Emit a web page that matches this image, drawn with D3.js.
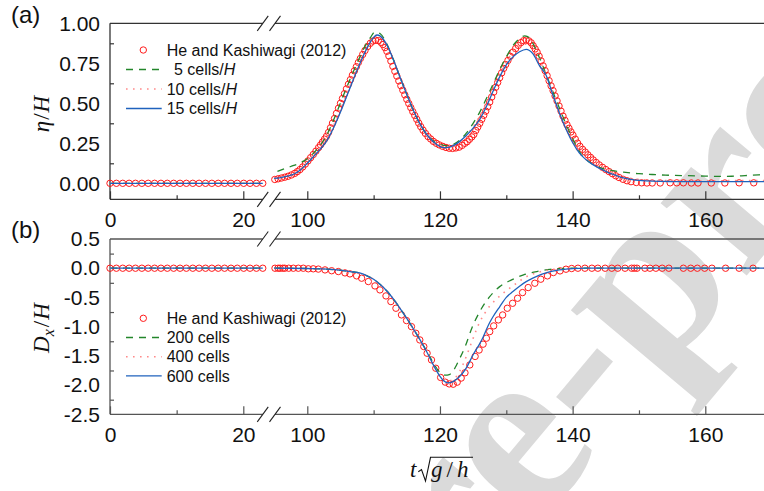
<!DOCTYPE html>
<html>
<head>
<meta charset="utf-8">
<script src="https://cdn.jsdelivr.net/npm/d3@7"></script>
<style>
  html, body { margin: 0; padding: 0; background: #fff; }
  svg { display: block; }
  text { font-family: "Liberation Sans", Arial, sans-serif; fill: #111; }
  .math { font-family: "Liberation Serif", "Times New Roman", serif; font-style: italic; }
</style>
</head>
<body>
<svg id="chart" width="764" height="491"></svg>
<script>
// ---------------- data ----------------
// Experimental record (He & Kashiwagi 2012), early flat part (both panels)
const refTimeLeft = [0, 0.96, 1.91, 2.87, 3.82, 4.78, 5.73, 6.69, 7.64, 8.6, 9.55, 10.51,
  11.46, 12.42, 13.37, 14.33, 15.28, 16.24, 17.19, 18.15, 19.1, 20.06, 21.01, 21.97, 22.92];

// Panel (a): free-surface elevation eta/H, experiment
const heEta = [
  [95.1,.024],[95.6,.028],[96.1,.033],[96.6,.038],[97.1,.044],[97.6,.052],[98.1,.062],[98.5,.073],
  [98.9,.086],[99.3,.102],[99.7,.120],[100.1,.140],[100.5,.160],[100.9,.180],[101.3,.201],[101.7,.223],
  [102.0,.240],[102.3,.258],[102.6,.276],[102.9,.294],[103.2,.318],[103.5,.347],[103.8,.376],[104.1,.405],
  [104.4,.437],[104.7,.469],[105.0,.500],[105.3,.530],[105.6,.560],[105.9,.590],[106.2,.619],[106.5,.648],
  [106.8,.676],[107.1,.703],[107.4,.729],[107.7,.755],[108.0,.780],[108.35,.805],[108.7,.830],[109.1,.855],
  [109.5,.875],[109.9,.889],[110.3,.894],[110.7,.892],[111.1,.881],[111.4,.867],[111.7,.848],[112.0,.825],
  [112.3,.796],[112.6,.764],[112.9,.731],[113.2,.700],[113.5,.670],[113.8,.640],[114.1,.610],[114.4,.582],
  [114.7,.553],[115.0,.525],[115.3,.499],[115.6,.473],[115.9,.448],[116.2,.424],[116.5,.400],[116.8,.376],
  [117.1,.354],[117.45,.332],[117.8,.312],[118.2,.292],[118.6,.277],[119.0,.262],[119.45,.250],[119.9,.240],
  [120.4,.231],[120.9,.224],[121.4,.219],[121.9,.218],[122.4,.221],[122.9,.226],[123.35,.237],[123.75,.250],
  [124.1,.260],[124.45,.275],[124.8,.290],[125.1,.305],[125.4,.330],[125.7,.352],[126.0,.375],[126.3,.400],
  [126.6,.425],[126.9,.451],[127.2,.479],[127.5,.508],[127.8,.539],[128.1,.570],[128.4,.600],[128.7,.630],
  [129.0,.660],[129.3,.690],[129.6,.718],[129.9,.742],[130.25,.768],[130.6,.794],[131.0,.820],[131.4,.842],
  [131.8,.862],[132.2,.879],[132.6,.891],[133.0,.895],[133.4,.890],[133.75,.878],[134.05,.860],[134.35,.840],
  [134.65,.819],[134.95,.794],[135.25,.765],[135.55,.734],[135.85,.704],[136.15,.673],[136.45,.641],[136.75,.609],
  [137.05,.579],[137.35,.546],[137.65,.515],[137.95,.483],[138.25,.451],[138.55,.420],[138.85,.393],[139.15,.366],
  [139.45,.344],[139.75,.321],[140.05,.301],[140.4,.276],[140.75,.251],[141.1,.231],[141.5,.212],[141.9,.195],
  [142.3,.178],[142.7,.162],[143.1,.146],[143.55,.130],[144.0,.115],[144.5,.100],[145.0,.086],[145.5,.073],
  [146.0,.060],[146.5,.047],[147.0,.036],[147.6,.025],[148.2,.016],[148.8,.010],[149.6,.005],[150.4,.003],
  [151.2,.002],[152.0,.002],[153.2,.002],[154.7,.003],[155.7,.003],[156.7,.003],[157.9,.002],[158.9,.002],
  [160.9,.002],[162.95,.002],[165.1,.003],[167.3,.003]
];

// Panel (a): simulations, 5 / 10 / 15 cells per H
const eta5 = [
  [95.5,.075],[96.5,.09],[97.5,.105],[98.5,.12],[99.5,.14],[100.5,.17],[101.5,.215],[102.5,.27],
  [103.5,.35],[104.5,.45],[105.5,.555],[106.5,.655],[107.5,.75],[108.5,.84],[109.5,.91],[110.2,.945],
  [111,.935],[112,.87],[113,.77],[114,.66],[115,.555],[116,.455],[117,.37],[118,.305],[119,.265],
  [120,.243],[121,.236],[122,.243],[123,.27],[124,.315],[125,.375],[126,.445],[127,.53],[128,.62],
  [129,.71],[130,.79],[131,.86],[132,.905],[132.8,.922],[133.5,.91],[134,.875],[135,.785],[136,.68],
  [137,.575],[138,.47],[139,.37],[140,.28],[141,.2],[142,.15],[143,.12],[144,.1],[145,.088],[146,.079],
  [147,.073],[148,.068],[149,.063],[150,.06],[152,.055],[154,.051],[157,.048],[160,.045],[162,.043],
  [164,.044],[166,.048],[168,.053],[170,.057]
];
const eta10 = [
  [95,.035],[96,.04],[97,.05],[98,.065],[99,.09],[100,.13],[101,.175],[102,.225],[103,.285],[104,.365],
  [105,.46],[106,.565],[107,.665],[108,.765],[109,.85],[110,.91],[110.5,.925],[111,.918],[112,.865],
  [113,.77],[114,.66],[115,.555],[116,.455],[117,.37],[118,.305],[119,.262],[120,.235],[121,.226],
  [122,.233],[123,.258],[124,.3],[125,.355],[126,.42],[127,.5],[128,.59],[129,.68],[130,.76],[131,.82],
  [132,.858],[133,.87],[134,.845],[135,.77],[136,.68],[137,.565],[138,.455],[139,.35],[140,.26],[141,.19],
  [142,.15],[143,.12],[144,.097],[145,.077],[146,.06],[147,.046],[148,.036],[149,.029],[150,.024],
  [152,.02],[155,.017],[160,.016],[165,.017],[170,.018]
];
const eta15 = [
  [95,.031],[96,.036],[97,.045],[98,.058],[99,.085],[100,.125],[101,.17],[102,.215],[103,.27],[104,.35],
  [105,.445],[106,.55],[107,.655],[108,.755],[109,.845],[110,.912],[110.5,.927],[111,.92],[112,.865],
  [113,.77],[114,.66],[115,.555],[116,.455],[117,.37],[118,.305],[119,.26],[120,.23],[120.5,.223],
  [121,.223],[122,.235],[123,.262],[124,.3],[125,.345],[126,.4],[127,.48],[128,.575],[129,.665],[130,.74],
  [131,.79],[132,.822],[133,.8375],[134,.81],[135,.735],[136,.675],[137,.555],[138,.44],[139,.34],
  [140,.255],[141,.19],[142,.148],[143,.118],[144,.095],[145,.075],[146,.057],[147,.042],[148,.031],
  [149,.023],[150,.018],[152,.013],[155,.011],[160,.01],[165,.01],[170,.01]
];

// Panel (b): horizontal drift Dx/H, experiment
const heDx = [
  [95.13,0],[95.6,0],[95.9,0],[96.3,0],[96.6,0],[97.2,0],[97.9,0],[98.65,0],[99.4,0],[100.15,-.01],
  [100.9,-.01],[101.66,-.015],[102.67,-.029],[103.67,-.043],[104.68,-.057],[105.68,-.08],[106.43,-.097],
  [107.44,-.131],[108.19,-.171],[109.2,-.228],[110.2,-.303],[110.95,-.371],[111.86,-.474],[112.6,-.571],
  [113.36,-.685],[114.2,-.799],[114.96,-.896],[115.7,-.999],[116.36,-1.113],[116.96,-1.227],[117.56,-1.341],
  [118.06,-1.455],[118.72,-1.569],[119.37,-1.712],[120.1,-1.87],[120.8,-1.95],[121.4,-1.98],[122.0,-1.985],
  [122.6,-1.95],[123.2,-1.88],[123.77,-1.79],[124.5,-1.655],[125.3,-1.51],[125.9,-1.40],[126.5,-1.30],
  [127.0,-1.198],[127.5,-1.085],[128.1,-.987],[128.8,-.885],[129.45,-.8],[130.15,-.685],[130.95,-.6],
  [131.7,-.514],[132.45,-.417],[133.3,-.331],[134.3,-.257],[135.2,-.188],[136.2,-.131],[137.1,-.074],
  [138.1,-.046],[139.0,-.017],[139.85,-.005],[140.8,0],[141.85,0],[142.9,0],[143.8,0],[144.9,0],[145.9,0],
  [146.8,0],[147.9,0],[148.9,0],[149.3,0],[149.7,0],[150.9,0],[151.65,0],[152.55,0],[153.5,0],[154.5,0],
  [156.7,0],[157.8,0],[158.8,0],[159.9,0],[161.0,0],[163.06,0],[165.1,0],[167.2,0]
];

// Panel (b): simulations, 200 / 400 / 600 cells
const dx200 = [
  [95,0],[100,-.005],[102,-.01],[104,-.025],[106,-.05],[107,-.065],[108,-.086],[109,-.13],[110,-.19],
  [111,-.28],[112,-.39],[113,-.53],[114,-.69],[115,-.86],[116,-1.04],[117,-1.227],[118,-1.42],[119,-1.62],
  [119.6,-1.73],[120.2,-1.8],[120.8,-1.83],[121.4,-1.82],[122,-1.76],[122.5,-1.655],[123,-1.54],
  [123.8,-1.34],[124.8,-1.027],[126,-.742],[127.5,-.486],[129,-.315],[130.8,-.2],[132.6,-.114],
  [134.6,-.057],[136.6,-.02],[138,-.008],[140,0],[150,0],[170,0]
];
const dx400 = [
  [95,0],[100,-.005],[102,-.01],[104,-.025],[106,-.05],[107,-.065],[108,-.086],[109,-.13],[110,-.19],
  [111,-.28],[112,-.39],[113,-.53],[114,-.69],[115,-.86],[116,-1.04],[117,-1.227],[118,-1.43],[119,-1.65],
  [120,-1.84],[120.6,-1.91],[121.2,-1.93],[122,-1.9],[122.5,-1.85],[123,-1.76],[123.5,-1.64],[124,-1.5],
  [124.5,-1.35],[125,-1.2],[125.5,-1.05],[126,-.92],[126.7,-.78],[127.5,-.65],[128.5,-.53],[129.5,-.43],
  [130.3,-.36],[131.5,-.26],[132.5,-.18],[133.5,-.12],[134.5,-.08],[136,-.04],[138,-.01],[140,0],[150,0],[170,0]
];
const dx600 = [
  [95,0],[100,-.005],[102,-.01],[104,-.025],[106,-.05],[107,-.065],[108,-.086],[109,-.13],[110,-.19],
  [111,-.28],[112,-.39],[113,-.53],[114,-.69],[115,-.86],[116,-1.04],[117,-1.227],[118,-1.43],[119,-1.655],
  [120,-1.85],[120.6,-1.93],[121.2,-1.963],[121.8,-1.95],[122.5,-1.9],[123,-1.85],[124,-1.7],[125,-1.48],
  [126,-1.29],[126.5,-1.18],[127,-1.05],[127.5,-.93],[128,-.83],[129,-.66],[130,-.5],[131,-.4],[132,-.31],
  [133,-.23],[134,-.17],[135,-.12],[136,-.08],[137,-.05],[138,-.03],[139,-.015],[140,-.006],[141,-.002],
  [142,0],[150,0],[170,0]
];

// Axis ticks
const xMajorLeft = [0, 20];
const xMinorLeft = [10];
const xMajorRight = [100, 120, 140, 160];
const xMinorRight = [110, 130, 150, 170];
const yMajorA = [0, 0.25, 0.5, 0.75, 1.0];
const yMinorA = [0.125, 0.375, 0.625, 0.875];
const yMajorB = [-2.5, -2.0, -1.5, -1.0, -0.5, 0.0, 0.5];
const yMinorB = [-2.25, -1.75, -1.25, -0.75, -0.25, 0.25];

// Legends
const legendA = ["He and Kashiwagi (2012)", "5 cells/H", "10 cells/H", "15 cells/H"];
const legendB = ["He and Kashiwagi (2012)", "200 cells", "400 cells", "600 cells"];

// ---------------- layout ----------------
const W = 764, H = 491;
const breakL = 22.92, breakR = 95.13;   // ends of the two axis segments
const svg = d3.select("#chart");
svg.append("rect").attr("width", W).attr("height", H).attr("fill", "#fff");

// watermark
svg.append("text")
  .attr("transform", "translate(-195,1398) rotate(-50)")
  .style("font-family", '"Liberation Serif", "Times New Roman", serif')
  .style("font-weight", "bold")
  .style("font-size", "245px")
  .style("fill", "#dadada")
  .text("Journal Pre-proof");

const xL = d3.scaleLinear().domain([0, 20]).range([110, 243.3]);
const xR = d3.scaleLinear().domain([100, 160]).range([307.3, 705.3]);
const xOf = t => (t <= breakL + 0.5 ? xL(t) : xR(t));

const styles = {
  ref:  { color: "#ff1a1a" },
  s1:   { color: "#23862b", dash: "7,6", width: 1.3 },
  s2:   { color: "#ff8a8a", dash: "1.6,5.4", width: 1.6 },
  s3:   { color: "#1f62bd", dash: null, width: 1.3 }
};

function panel(cfg) {
  const g = svg.append("g");
  const y = cfg.y;
  const [yBot, yTop] = y.range();
  const axisColor = cfg.axisColor;

  // frame lines with the break gap
  [yTop, yBot].forEach(yy => {
    g.append("line").attr("x1", xL(0)).attr("x2", xL(breakL)).attr("y1", yy).attr("y2", yy)
      .attr("stroke", axisColor).attr("stroke-width", 1.3);
    g.append("line").attr("x1", xR(breakR)).attr("x2", W + 5).attr("y1", yy).attr("y2", yy)
      .attr("stroke", axisColor).attr("stroke-width", 1.3);
    [xL(breakL), xR(breakR)].forEach(bx => {
      g.append("line").attr("x1", bx - 5.5).attr("y1", yy + 7.5).attr("x2", bx + 5.5).attr("y2", yy - 7.5)
        .attr("stroke", "#222").attr("stroke-width", 1.1);
    });
  });
  g.append("line").attr("x1", xL(0)).attr("x2", xL(0)).attr("y1", yTop).attr("y2", yBot)
    .attr("stroke", axisColor).attr("stroke-width", 1.3);

  // x ticks (inward)
  const addX = (scale, vals, size, labels) => {
    const ax = d3.axisBottom(scale).tickValues(vals).tickSize(-size).tickPadding(12.7);
    if (!labels) ax.tickFormat("");
    const a = g.append("g").attr("transform", `translate(0,${yBot})`).call(ax);
    a.select(".domain").remove();
    a.selectAll("line").attr("stroke", axisColor).attr("stroke-width", 1.2);
    a.selectAll("text").style("font-size", "21px").style("font-family", '"Liberation Sans", Arial, sans-serif').attr("fill", "#111");
  };
  addX(xL, xMajorLeft, 8, true);
  addX(xL, xMinorLeft, 4, false);
  addX(xR, xMajorRight, 8, true);
  addX(xR, xMinorRight, 4, false);

  // y axis: labelled values carry no mark, short inner ticks halfway between
  const addY = (vals, size, labels) => {
    const ax = d3.axisLeft(y).tickValues(vals).tickSize(-size).tickPadding(10);
    ax.tickFormat(labels ? cfg.fmt : "");
    const a = g.append("g").attr("transform", `translate(${xL(0)},0)`).call(ax);
    a.select(".domain").remove();
    a.selectAll("line").attr("stroke", axisColor).attr("stroke-width", 1.2);
    a.selectAll("text").style("font-size", "21px").style("font-family", '"Liberation Sans", Arial, sans-serif').attr("fill", "#111");
  };
  addY(cfg.yMajor, 0, true);
  addY(cfg.yMinor, 4, false);

  // experiment markers
  const pts = refTimeLeft.map(t => [t, 0]).concat(cfg.ref);
  g.append("g").selectAll("circle").data(pts).join("circle")
    .attr("cx", d => xOf(d[0])).attr("cy", d => y(d[1])).attr("r", 3.2)
    .attr("fill", "none").attr("stroke", styles.ref.color).attr("stroke-width", 1);

  // simulation curves (flat early part + main part)
  const line = d3.line().x(d => xOf(d[0])).y(d => y(d[1])).curve(d3.curveMonotoneX);
  const flat = [[0, 0], [breakL, 0]];
  cfg.sims.forEach(([data, st]) => {
    [flat, data].forEach(seg => {
      g.append("path").datum(seg).attr("d", line).attr("fill", "none")
        .attr("stroke", st.color).attr("stroke-width", st.width)
        .attr("stroke-dasharray", st.dash);
    });
  });

  // legend
  const lg = g.append("g");
  const lx1 = 126, lx2 = 161.7, cx = 143.3, tx = 166.7;
  cfg.legend.forEach((lab, i) => {
    const ry = cfg.legendY + i * cfg.legendStep;
    if (i === 0) {
      lg.append("circle").attr("cx", cx).attr("cy", ry).attr("r", 3.2)
        .attr("fill", "none").attr("stroke", styles.ref.color).attr("stroke-width", 1);
    } else {
      const st = [styles.s1, styles.s2, styles.s3][i - 1];
      lg.append("line").attr("x1", lx1).attr("x2", lx2).attr("y1", ry).attr("y2", ry)
        .attr("stroke", st.color).attr("stroke-width", st.width).attr("stroke-dasharray", st.dash);
    }
    const lead = lab.match(/^\d+/);
    const indent = lead && lead[0].length === 1 ? 7.3 : 0;
    const t = lg.append("text").attr("x", tx + indent).attr("y", ry + 5.7).style("font-size", "16px");
    if (lab.endsWith("/H")) {
      t.append("tspan").text(lab.slice(0, -1));
      t.append("tspan").style("font-style", "italic").text("H");
    } else {
      t.text(lab);
    }
  });

  // panel tag
  svg.append("text").attr("x", 11).attr("y", cfg.tagY).style("font-size", "24px").text(cfg.tag);
  return g;
}

const yA = d3.scaleLinear().domain([-0.1, 1.0]).range([199.3, 23.3]);
const yB = d3.scaleLinear().domain([-2.5, 0.5]).range([414.3, 239]);

panel({
  y: yA, yMajor: yMajorA, yMinor: yMinorA, fmt: d3.format(".2f"),
  ref: heEta, sims: [[eta5, styles.s1], [eta10, styles.s2], [eta15, styles.s3]],
  legend: legendA, legendY: 50, legendStep: 19.5, tag: "(a)", tagY: 23, axisColor: "#333"
});
panel({
  y: yB, yMajor: yMajorB, yMinor: yMinorB, fmt: d3.format(".1f"),
  ref: heDx, sims: [[dx200, styles.s1], [dx400, styles.s2], [dx600, styles.s3]],
  legend: legendB, legendY: 318.3, legendStep: 19.2, tag: "(b)", tagY: 238, axisColor: "#555"
});

// plain hyphen-minus in the tick labels
svg.selectAll(".tick text").each(function () {
  const s = d3.select(this).text();
  d3.select(this).text(s.replace("\u2212", "-"));
});

// axis titles
const ytA = svg.append("text").attr("class", "math")
  .attr("transform", "translate(49,114) rotate(-90)").attr("text-anchor", "middle").style("font-size", "23px");
ytA.append("tspan").text("η");
ytA.append("tspan").style("font-style", "normal").attr("dx", 1).text("/");
ytA.append("tspan").attr("dx", 1).text("H");

const ytB = svg.append("text").attr("class", "math")
  .attr("transform", "translate(49,328) rotate(-90)").attr("text-anchor", "middle").style("font-size", "23px");
ytB.append("tspan").text("D");
ytB.append("tspan").attr("dy", 5).style("font-size", "16px").text("x");
ytB.append("tspan").attr("dy", -5).style("font-style", "normal").attr("dx", 2).text("/");
ytB.append("tspan").attr("dx", 1).text("H");

// x title: t sqrt(g/h)
const xt = svg.append("g");
xt.append("text").attr("class", "math").attr("x", 410).attr("y", 477).style("font-size", "23px").text("t");
xt.append("path").attr("d", "M418.3,471.7 L421.5,469.5 L425.5,481 L430.5,457.3 L473,457.3")
  .attr("fill", "none").attr("stroke", "#111").attr("stroke-width", 1.1);
const gh = xt.append("text").attr("class", "math").attr("x", 431).attr("y", 477).style("font-size", "23px");
gh.append("tspan").text("g");
gh.append("tspan").attr("dx", 4).style("font-style", "normal").text("/");
gh.append("tspan").attr("dx", 4).text("h");
</script>
</body>
</html>
